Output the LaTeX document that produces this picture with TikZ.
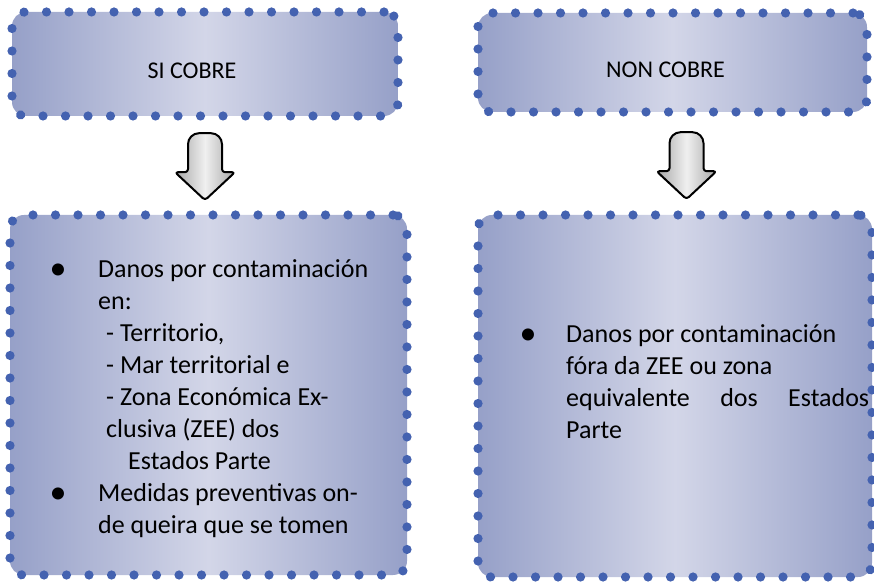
\documentclass[tikz,border=0pt]{standalone}
\usepackage{fontspec}
\setmainfont{Carlito}
\usepackage{tikz}
\usepackage{xcolor}
\usetikzlibrary{calc}
\usetikzlibrary{positioning}
\usetikzlibrary{decorations.markings}
\definecolor{boxedge}{RGB}{150,160,200}
\definecolor{boxmid}{RGB}{211,214,232}
\definecolor{dotblue}{RGB}{68,98,176}

\begin{document}
\begin{tikzpicture}[x=1pt,y=1pt]
                % Define the styles for the boxes, the texts and the arrows
                \tikzstyle{dotted box}=[rounded corners=14pt, left color=boxedge, right color=boxedge, middle color=boxmid, inner sep=0pt,
                    postaction={decorate, decoration={markings, mark=between positions 0 and 1 step 22.5pt with {\fill[dotblue] (0,0) circle (4.6pt);}}}];
                \tikzstyle{title text}=[font=\fontsize{24}{29}\selectfont, inner sep=0pt];
                \tikzstyle{body text}=[font=\fontsize{26}{32}\selectfont, align=left, inner sep=0pt, anchor=base west];
                \tikzstyle{list dot}=[font=\fontsize{34}{34}\selectfont, inner sep=0pt, anchor=base];
                \tikzstyle{block arrow}=[draw=black, line width=2pt, line join=round, left color=gray!70, right color=gray!70, middle color=gray!12];
                \tikzset{down arrow/.pic={
                    \draw[block arrow] [rounded corners=3pt] (-30,-39) -- (-17,-39) [rounded corners=11pt] -- (-17,0) -- (17,0) [rounded corners=3pt] -- (17,-39) -- (30,-39) -- (0,-67) -- cycle;
                }}
                
                % Keep the margins of the page
                \useasboundingbox (0,0) rectangle (874,583);
                
                % Define the coordinates for the four boxes
                \coordinate (SI) at (205,519);
                \coordinate (NON) at (672.5,520.5);
                \coordinate (L) at (208.5,188);
                \coordinate (R) at (675,187);
                
                % Draw the boxes
                \node[dotted box, minimum width=386pt, minimum height=104pt] (si) at (SI) {};
                \node[dotted box, minimum width=389pt, minimum height=99pt] (non) at (NON) {};
                \node[dotted box, minimum width=397pt, minimum height=360pt] (lbox) at (L) {};
                \node[dotted box, minimum width=394pt, minimum height=362pt] (rbox) at (R) {};
                
                % Titles of the upper boxes
                \node[title text] (sitext) at ($(si.center)+(-13,-7)$) {SI COBRE};
                \node[title text] (nontext) at ($(non.center)+(-7,-7)$) {NON COBRE};
                
                % Arrows between the boxes
                \pic at ($(si.south)+(0,-17)$) {down arrow};
                \pic at ($(non.south)+(14,-20)$) {down arrow};
                
                % Text of the lower left box (the node sits on its last line)
                \node[list dot] (dot1) at (58,303) {•};
                \node[list dot] (dot2) at (58,79) {•};
                \node[body text] (ltext) at (98,49) {Danos por contaminación\\
                    en:\\
                    \hspace*{8pt}- Territorio,\\
                    \hspace*{8pt}- Mar territorial e\\
                    \hspace*{8pt}- Zona Económica Ex-\\
                    \hspace*{8pt}clusiva (ZEE) dos\\
                    \hspace*{30pt}Estados Parte\\
                    Medidas preventivas on-\\
                    de queira que se tomen};
                
                % Text of the lower right box
                \node[list dot] (dot3) at (528,238) {•};
                \node[body text] (rtext) at (566,144) {Danos por contaminación\\
                    fóra da ZEE ou zona\\
                    \makebox[303pt][s]{equivalente dos Estados}\\
                    Parte};
            \end{tikzpicture}
\end{document}
